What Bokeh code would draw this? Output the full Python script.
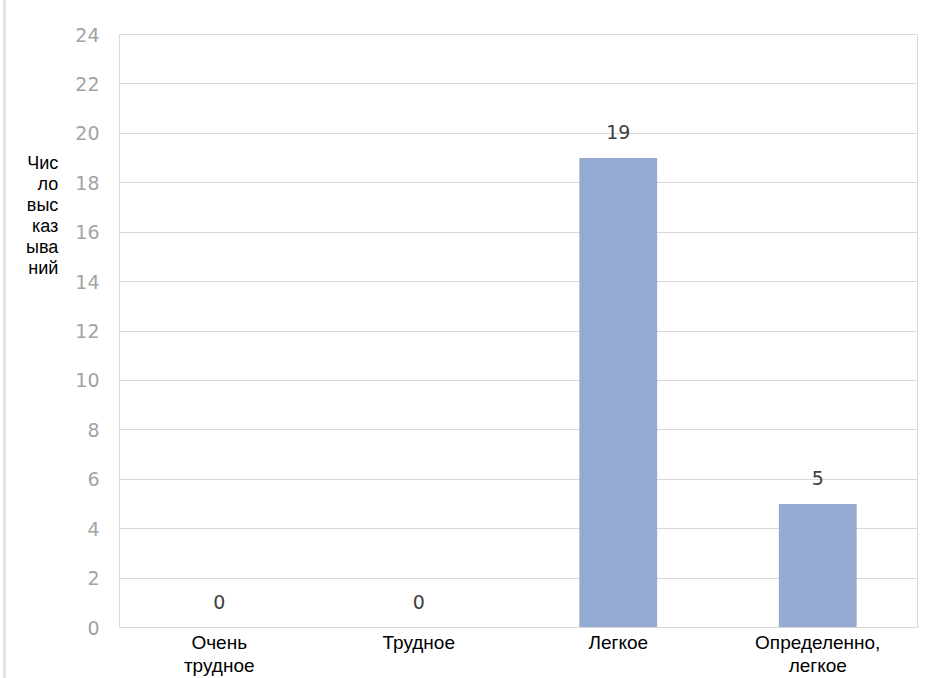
from bokeh.plotting import figure
from bokeh.models import FactorRange, FixedTicker, ColumnDataSource, LabelSet, Range1d
from bokeh.core.properties import value
from bokeh.embed import file_html
from bokeh.resources import INLINE

categories = ["Очень\nтрудное", "Трудное", "Легкое", "Определенно,\nлегкое"]
counts = [0, 0, 19, 5]
y_ticks = [0, 2, 4, 6, 8, 10, 12, 14, 16, 18, 20, 22, 24]
y_title_lines = ["Чис", "ло", "выс", "каз", "ыва", "ний"]

src = ColumnDataSource(dict(cat=categories, val=counts, txt=[str(v) for v in counts]))

p = figure(width=923, height=678, x_range=FactorRange(*categories, range_padding=0),
           y_range=Range1d(0, 24), output_backend="svg", toolbar_location=None,
           min_border_left=113, min_border_right=12, min_border_top=34, min_border_bottom=51)
p.styles = {"border-left": "3px solid #e2e2e2", "margin-left": "3px"}

p.vbar(x="cat", top="val", width=0.39, source=src, color="#94aad2", line_color=None)

p.outline_line_color = "#d9d9d9"
p.background_fill_color = "white"
p.border_fill_color = "white"

p.xgrid.grid_line_color = None
p.ygrid.grid_line_color = "#d9d9d9"
p.ygrid.ticker = FixedTicker(ticks=y_ticks)

p.yaxis.ticker = FixedTicker(ticks=y_ticks)
p.yaxis.axis_line_color = None
p.yaxis.major_tick_line_color = None
p.yaxis.minor_tick_line_color = None
p.yaxis.major_tick_out = 0
p.yaxis.major_tick_in = 0
p.yaxis.minor_tick_out = 0
p.yaxis.minor_tick_in = 0
p.yaxis.major_label_text_font = "DejaVu Sans"
p.yaxis.major_label_text_font_size = "19px"
p.yaxis.major_label_text_color = "#a3a3a3"
p.yaxis.major_label_standoff = 20
# blank trailing lines lift the centred title block up towards the upper part of the axis
p.yaxis.axis_label = "\n".join(y_title_lines + [""] * 11)
p.yaxis.axis_label_orientation = "horizontal"
p.yaxis.axis_label_text_font = "Liberation Sans"
p.yaxis.axis_label_text_font_size = "18px"
p.yaxis.axis_label_text_font_style = "normal"
p.yaxis.axis_label_text_color = "black"
p.yaxis.axis_label_text_line_height = 1.05
p.yaxis.axis_label_standoff = 14

p.xaxis.axis_line_color = "#d9d9d9"
p.xaxis.major_tick_line_color = None
p.xaxis.minor_tick_line_color = None
p.xaxis.major_tick_out = 0
p.xaxis.major_tick_in = 0
p.xaxis.minor_tick_out = 0
p.xaxis.minor_tick_in = 0
p.xaxis.major_label_text_font = "Liberation Sans"
p.xaxis.major_label_text_font_size = "19px"
p.xaxis.major_label_text_color = "black"
p.xaxis.major_label_text_line_height = 1.1
p.xaxis.major_label_standoff = 4

labels = LabelSet(x="cat", y="val", text="txt", source=src, y_offset=26,
                  text_align="center", text_baseline="middle",
                  text_font=value("DejaVu Sans"), text_font_size=value("19px"),
                  text_color="#404040")
p.add_layout(labels)

open("out.html", "w").write(file_html(p, INLINE))
